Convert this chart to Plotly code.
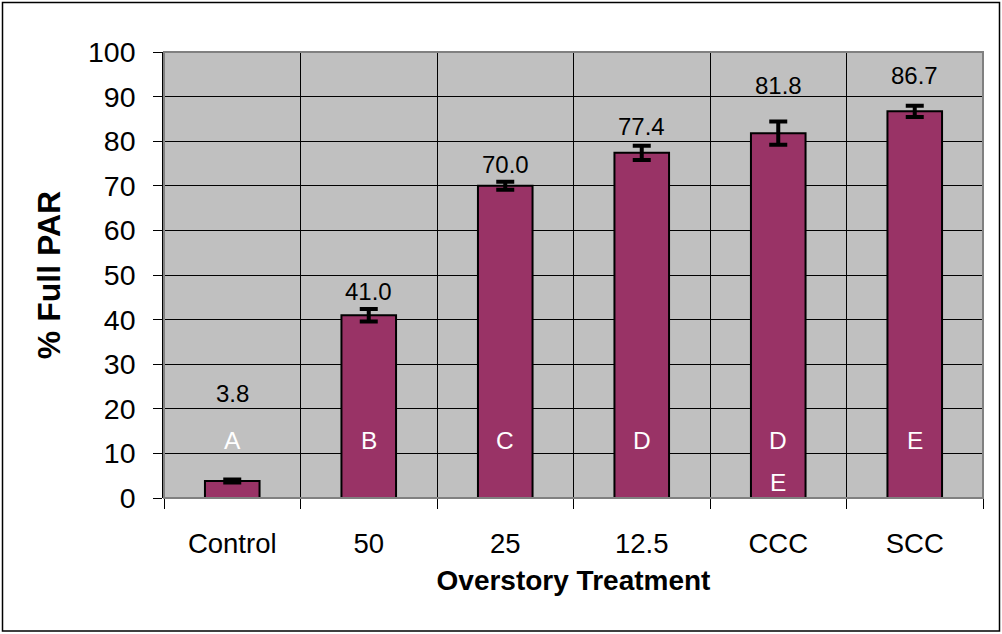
"""Percent full PAR by overstory treatment, bar chart with SE bars."""

import plotly.graph_objects as go

TREATMENTS = ["Control", "50", "25", "12.5", "CCC", "SCC"]
PCT_PAR = [3.8, 41.0, 70.0, 77.4, 81.8, 86.7]
PCT_ERR = [0.35, 1.4, 0.9, 1.6, 2.6, 1.25]
VALUE_LABEL_Y = [23.5, 46.2, 74.8, 83.4, 92.6, 94.8]
LETTERS = ["A", "B", "C", "D", "D", "E"]
LETTER_Y = [13, 13, 13, 13, 13, 13]
LETTERS_2 = ["", "", "", "", "E", ""]
LETTER_2_Y = [3.4, 3.4, 3.4, 3.4, 3.4, 3.4]
Y_TICKS = list(range(0, 101, 10))

FONT = "Arial, 'Liberation Sans', sans-serif"
BAR_COLOR = "#993366"
PLOT_BG = "#C0C0C0"

W, H = 1002, 634
M = dict(l=164, r=19, t=52, b=136)

fig = go.Figure()
fig.add_trace(
    go.Bar(
        x=TREATMENTS,
        y=PCT_PAR,
        width=0.4,
        marker=dict(color=BAR_COLOR, line=dict(color="black", width=2)),
        error_y=dict(
            type="data", array=PCT_ERR, visible=True,
            color="black", thickness=4, width=9,
        ),
        showlegend=False,
        hoverinfo="x+y",
    )
)

# value labels above the bars (x given as category index)
for i, (v, ly) in enumerate(zip(PCT_PAR, VALUE_LABEL_Y)):
    fig.add_annotation(
        x=i, y=ly, text=f"{v:.1f}", showarrow=False,
        font=dict(family=FONT, size=24, color="black"),
    )

# significance letters
for i, (t, ly) in enumerate(zip(LETTERS, LETTER_Y)):
    fig.add_annotation(
        x=i, y=ly, text=t, showarrow=False,
        font=dict(family=FONT, size=24.5, color="white"),
    )
for i, (t, ly) in enumerate(zip(LETTERS_2, LETTER_2_Y)):
    if t:
        fig.add_annotation(
            x=i, y=ly, text=t, showarrow=False,
            font=dict(family=FONT, size=24.5, color="white"),
        )

# plot-area border (gray) and outer frame
fig.add_shape(
    type="rect", xref="paper", yref="paper", x0=0, y0=0, x1=1, y1=1,
    line=dict(color="#808080", width=2), layer="above",
)
pw = W - M["l"] - M["r"]
ph = H - M["t"] - M["b"]
fig.add_shape(
    type="rect", xref="paper", yref="paper",
    x0=(2.5 - M["l"]) / pw, x1=(W - 2.5 - M["l"]) / pw,
    y0=-(H - 3 - M["t"] - ph) / ph, y1=(H - M["b"] - 2.5) / ph,
    line=dict(color="black", width=1.5),
)

fig.update_xaxes(
    type="category",
    range=[-0.5, len(TREATMENTS) - 0.5],
    automargin=False,
    tickangle=0,
    tickson="boundaries",
    ticks="outside",
    ticklen=10,
    tickcolor="black",
    ticklabelstandoff=26,
    showgrid=True,
    gridcolor="black",
    gridwidth=1,
    showline=False,
    tickfont=dict(family=FONT, size=27.5, color="black"),
    title=dict(
        text="<b>Overstory Treatment</b>",
        font=dict(family=FONT, size=28, color="black"),
        standoff=12,
    ),
)
fig.update_yaxes(
    range=[0, 100],
    automargin=False,
    tickvals=Y_TICKS,
    ticks="outside",
    ticklen=9,
    tickcolor="black",
    ticklabelstandoff=12,
    showgrid=True,
    gridcolor="black",
    gridwidth=1,
    showline=True,
    linecolor="black",
    linewidth=1.5,
    zeroline=False,
    tickfont=dict(family=FONT, size=28.5, color="black"),
    title=dict(
        text="<b>% Full PAR</b>",
        font=dict(family=FONT, size=32, color="black"),
        standoff=18,
    ),
)

fig.update_layout(
    width=W,
    height=H,
    margin=M,
    paper_bgcolor="white",
    plot_bgcolor=PLOT_BG,
)

# drop the browser's default page margin so the figure sits at the corner
fig.write_html(
    "out.html",
    config={"displayModeBar": False},
    post_script="document.body.style.margin='0';",
)
